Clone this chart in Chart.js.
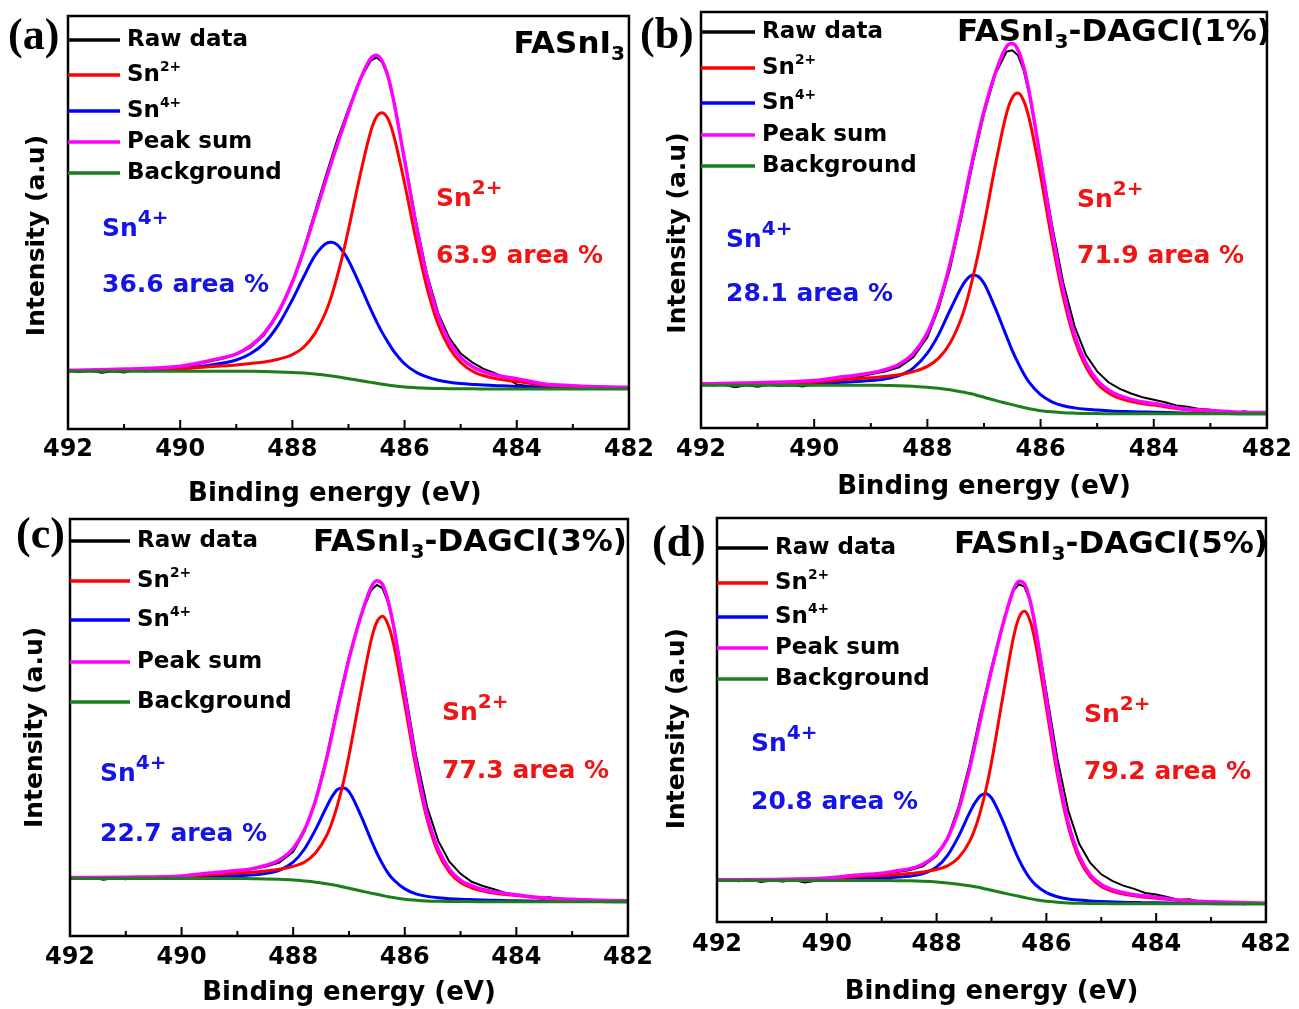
<!DOCTYPE html>
<html>
<head>
<meta charset="utf-8">
<title>Sn 3d5/2 XPS fits</title>
<script src="https://cdn.jsdelivr.net/npm/chart.js@4.4.1/dist/chart.umd.min.js"></script>
<style>
  html, body { margin: 0; padding: 0; background: #fff; }
  body { position: relative; width: 1299px; height: 1009px; overflow: hidden; }
  canvas { position: absolute; }
</style>
</head>
<body>
<canvas id="pa"></canvas>
<canvas id="pb"></canvas>
<canvas id="pc"></canvas>
<canvas id="pd"></canvas>
<script>
// binding energy (eV) of the fitted curves, and of the raw spectrum
const energy = [492, 491, 490, 489.5, 489, 488.75, 488.5, 488.25, 488, 487.8, 487.6, 487.4, 487.3, 487.2, 487.1, 487.0,
  486.8, 486.6, 486.5, 486.4, 486.3, 486.2, 486.0, 485.8, 485.6, 485.4, 485.2, 485.0, 484.75, 484.5, 484.25, 484.0,
  483.5, 483.0, 482.5, 482.0];
const rawEnergy = [492, 491.8, 491.6, 491.4, 491.2, 491, 490.8, 490.6, 490.4, 490.2, 490, 489.75, 489.5, 489.25, 489,
  488.75, 488.5, 488.25, 488, 487.8, 487.6, 487.4, 487.2, 487.0, 486.8, 486.6, 486.5, 486.4, 486.3, 486.2, 486.0,
  485.8, 485.6, 485.4, 485.2, 485.0, 484.8, 484.6, 484.4, 484.2, 484.0, 483.8, 483.6, 483.4, 483.2, 483.0, 482.8,
  482.6, 482.4, 482.2, 482.0];
const xTicks = [492, 490, 488, 486, 484, 482];
const xMinorTicks = [491, 489, 487, 485, 483];

// (a) FASnI3  (intensity in arbitrary units, 0..100 of the frame)
const aRaw = [14.2, 13.8, 14.1, 13.6, 14.0, 13.7, 14.3, 13.9, 14.4, 14.1, 14.3, 15.5, 16.3, 17.0, 18.0, 19.7, 22.8, 28.0, 35.5,
  43.5, 52.5, 61.5, 70.0, 77.5, 84.5, 89.2, 90.0, 88.8, 85.5, 80.0, 65.5, 50.5, 37.5, 28.0, 22.0, 18.3,
  16.2, 14.6, 13.6, 12.4, 10.8, 10.4, 10.2, 10.1, 10.0, 10.0, 9.9, 9.9, 9.9, 9.9, 9.9];
const aSn2 = [14.1, 14.2, 14.5, 15.1, 15.5, 15.85, 16.2, 16.9, 18.0, 19.8, 23.1, 28.5, 32.3, 37.0, 42.3, 48.3, 61.0, 72.2,
  75.6, 76.6, 75.2, 71.4, 59.5, 46.1, 34.2, 25.3, 19.6, 16.1, 13.7, 12.6, 11.9, 11.5, 10.6, 10.3, 10.1, 10.0];
const aSn4 = [14.1, 14.3, 14.7, 15.4, 16.7, 18.2, 20.8, 25.2, 31.3, 36.8, 41.9, 44.9, 45.2, 44.6, 43.0, 40.8, 35.0, 28.9,
  26.0, 23.4, 21.1, 19.0, 15.8, 13.8, 12.6, 11.8, 11.3, 11.0, 10.8, 10.6, 10.45, 10.3, 10.1, 10.0, 9.9, 9.9];
const aSum = [14.2, 14.5, 15.2, 16.5, 18.2, 20.1, 23.2, 28.3, 35.6, 43.1, 51.7, 60.4, 64.7, 68.9, 72.9, 76.9, 84.3, 89.8,
  90.5, 89.1, 85.6, 79.9, 65.1, 49.9, 36.9, 27.3, 21.1, 17.3, 14.8, 13.5, 12.7, 12.2, 10.9, 10.5, 10.2, 10.1];
const aBg = [14.0, 14.0, 14.0, 14.0, 14.0, 13.96, 13.91, 13.83, 13.70, 13.53, 13.31, 13.01, 12.84, 12.67, 12.41, 12.19,
  11.72, 11.29, 11.08, 10.86, 10.65, 10.47, 10.17, 10.0, 9.87, 9.81, 9.76, 9.74, 9.72, 9.7, 9.7, 9.7, 9.7, 9.7, 9.7, 9.7];

// (b) FASnI3-DAGCl(1%)
const bRaw = [10.8, 10.2, 10.4, 9.8, 10.3, 9.9, 10.4, 10.1, 10.3, 10.0, 10.5, 11.1, 11.6, 12.2, 12.9, 13.6, 14.6, 17.0, 21.8,
  28.8, 38.3, 50.5, 63.5, 75.5, 85.0, 90.5, 90.8, 89.6, 86.0, 80.2, 65.0, 49.0, 35.0, 24.5, 17.6, 13.6,
  11.0, 9.4, 8.3, 7.4, 6.8, 6.2, 5.4, 5.1, 4.6, 4.4, 3.9, 3.6, 4.0, 3.5, 3.7];
const bSn2 = [10.5, 10.6, 11.0, 11.6, 12.1, 12.4, 12.8, 13.55, 14.8, 16.8, 20.4, 26.4, 30.7, 36.0, 42.0, 48.7, 63.1, 75.7,
  79.4, 80.5, 78.7, 74.3, 60.7, 45.2, 31.5, 21.3, 14.7, 10.7, 8.0, 6.7, 5.96, 5.5, 4.5, 4.0, 3.7, 3.6];
const bSn4 = [10.4, 10.5, 10.7, 11.0, 11.4, 11.8, 12.6, 14.4, 18.0, 22.5, 28.3, 33.8, 35.8, 36.8, 36.4, 34.8, 28.8, 22.0,
  18.6, 15.7, 13.1, 10.95, 8.0, 6.3, 5.35, 4.84, 4.52, 4.31, 4.1, 3.96, 3.86, 3.8, 3.6, 3.5, 3.45, 3.4];
const bSum = [10.6, 10.9, 11.4, 12.3, 13.2, 14.0, 15.3, 17.9, 22.9, 29.8, 39.5, 51.5, 58.1, 64.6, 70.6, 76.1, 85.3, 91.7,
  92.4, 90.9, 86.9, 80.7, 64.5, 47.6, 33.2, 22.5, 15.7, 11.5, 8.7, 7.3, 6.4, 5.9, 4.7, 4.2, 3.8, 3.7];
const bBg = [10.3, 10.3, 10.3, 10.3, 10.3, 10.23, 10.16, 10.02, 9.82, 9.54, 9.20, 8.71, 8.44, 8.16, 7.75, 7.40,
  6.64, 5.95, 5.61, 5.26, 4.92, 4.64, 4.16, 3.88, 3.68, 3.57, 3.50, 3.47, 3.43, 3.4, 3.4, 3.4, 3.4, 3.4, 3.4, 3.4];

// (c) FASnI3-DAGCl(3%)
const cRaw = [14.1, 13.7, 14.0, 13.5, 13.9, 13.6, 14.0, 13.8, 14.1, 13.7, 13.9, 14.6, 15.0, 15.3, 15.6, 16.0, 16.6, 17.6, 20.2,
  25.0, 32.5, 43.0, 55.5, 67.0, 76.5, 83.0, 84.2, 83.4, 80.0, 74.5, 59.5, 43.5, 31.0, 22.8, 17.8, 14.9,
  13.0, 12.0, 11.2, 10.3, 9.9, 9.6, 9.2, 9.3, 8.6, 8.8, 8.3, 8.6, 8.1, 8.5, 8.2];
const cSn2 = [13.95, 14.0, 14.2, 14.7, 15.05, 15.3, 15.6, 16.0, 16.7, 17.7, 19.9, 24.1, 27.4, 31.7, 36.9, 43.3, 57.6, 71.1,
  75.3, 76.7, 74.7, 70.0, 55.6, 40.4, 28.0, 19.9, 15.3, 12.8, 11.3, 10.5, 10.0, 9.7, 9.0, 8.7, 8.5, 8.4];
const cSn4 = [13.85, 13.9, 14.0, 14.2, 14.5, 14.6, 15.0, 15.75, 17.7, 20.8, 25.5, 31.0, 33.5, 35.2, 35.5, 34.6, 29.3, 22.9,
  19.9, 17.3, 15.1, 13.5, 11.3, 10.1, 9.5, 9.2, 8.96, 8.8, 8.7, 8.6, 8.5, 8.46, 8.35, 8.3, 8.25, 8.2];
const cSum = [14.0, 14.1, 14.4, 15.1, 15.7, 16.1, 16.9, 18.2, 21.0, 25.4, 32.5, 42.6, 48.6, 54.8, 60.7, 66.4, 76.1, 83.7,
  85.2, 84.3, 80.4, 74.3, 58.1, 41.9, 29.1, 20.8, 16.0, 13.4, 11.8, 10.85, 10.3, 9.9, 9.1, 8.8, 8.55, 8.45];
const cBg = [13.8, 13.8, 13.8, 13.8, 13.8, 13.74, 13.69, 13.58, 13.41, 13.18, 12.90, 12.51, 12.29, 12.06, 11.73, 11.45,
  10.83, 10.27, 9.99, 9.71, 9.43, 9.21, 8.82, 8.59, 8.42, 8.34, 8.28, 8.26, 8.23, 8.2, 8.2, 8.2, 8.2, 8.2, 8.2, 8.2];

// (d) FASnI3-DAGCl(5%)
const dRaw = [10.6, 10.4, 10.1, 10.5, 9.9, 10.3, 10.0, 10.4, 9.8, 10.2, 10.5, 10.9, 11.4, 11.5, 11.9, 12.3, 12.8, 13.8, 16.3,
  20.8, 28.5, 39.0, 51.5, 63.0, 73.5, 82.0, 83.6, 83.0, 79.6, 73.5, 57.0, 40.5, 27.5, 19.3, 14.6, 11.8,
  10.2, 9.0, 8.2, 7.2, 6.8, 6.2, 5.5, 5.6, 5.0, 5.1, 4.6, 4.9, 4.4, 4.7, 4.5];
const dSn2 = [10.4, 10.5, 10.7, 11.2, 11.5, 11.7, 12.0, 12.4, 13.0, 13.9, 15.9, 19.9, 23.1, 27.4, 32.85, 39.5, 55.2, 70.4,
  75.3, 76.9, 74.7, 69.2, 53.1, 36.5, 23.6, 15.55, 11.1, 8.8, 7.4, 6.7, 6.2, 5.9, 5.2, 4.9, 4.7, 4.6];
const dSn4 = [10.35, 10.4, 10.5, 10.7, 10.9, 11.1, 11.3, 11.96, 13.6, 16.5, 21.2, 27.0, 29.5, 31.3, 31.75, 30.7, 25.2, 18.5,
  15.45, 12.9, 10.8, 9.27, 7.26, 6.26, 5.70, 5.42, 5.2, 5.07, 4.94, 4.84, 4.79, 4.75, 4.6, 4.55, 4.5, 4.5];
const dSum = [10.45, 10.55, 10.9, 11.55, 12.1, 12.6, 13.15, 14.3, 16.8, 20.7, 27.7, 37.9, 43.9, 50.2, 56.45, 62.3, 73.2, 82.2,
  84.35, 83.7, 79.7, 73.0, 55.3, 37.9, 24.6, 16.3, 11.7, 9.3, 7.8, 7.0, 6.5, 6.15, 5.3, 5.0, 4.8, 4.65];
const dBg = [10.3, 10.3, 10.3, 10.3, 10.3, 10.24, 10.18, 10.07, 9.89, 9.66, 9.37, 8.97, 8.73, 8.50, 8.15, 7.86,
  7.23, 6.65, 6.36, 6.07, 5.78, 5.54, 5.14, 4.91, 4.73, 4.65, 4.59, 4.56, 4.53, 4.5, 4.5, 4.5, 4.5, 4.5, 4.5, 4.5];

const FONT = "'DejaVu Sans', 'Liberation Sans', sans-serif";
const RED = '#ff0000', BLUE = '#0000ff', MAGENTA = '#ff00ff', GREEN = '#1a7f1a';
const NBSP = '\u00a0';

const legendItems = [
  { text: 'Raw data', color: '#000' },
  { text: 'Sn^{2+}', color: RED },
  { text: 'Sn^{4+}', color: BLUE },
  { text: 'Peak sum', color: MAGENTA },
  { text: 'Background', color: GREEN }
];

// page layout of each panel (absolute pixels)
const panels = [
  { id: 'pa', tag: '(a)', title: 'FASnI_{3}', canvas: [0, 0, 660, 510], area: [68, 16, 631, 429],
    xTitleOff: 66, tickOff: 21, yTitleX: 37, xTitleNudge: 3, yTitleNudge: 3,
    legendY: [40, 75, 111, 142, 173], legendLen: 52,
    tagPos: [8, 38], titleY: 45, titleRight: 625,
    sn4: [102, 229], sn4Pct: [102, 285, '36.6 area %'], sn2: [436, 199], sn2Pct: [436, 256, '63.9 area %'],
    series: [aRaw, aSn2, aSn4, aSum, aBg] },
  { id: 'pb', tag: '(b)', title: 'FASnI_{3}-DAGCl(1%)', canvas: [630, 0, 669, 510], area: [701, 12, 1272, 428],
    xTitleOff: 60, tickOff: 22, yTitleX: 678, xTitleNudge: 0, yTitleNudge: 3,
    legendY: [32, 68, 103, 135, 166], legendLen: 54,
    tagPos: [640, 37], titleY: 33, titleRight: 1271,
    sn4: [726, 240], sn4Pct: [726, 294, '28.1 area %'], sn2: [1077, 200], sn2Pct: [1077, 256, '71.9 area %'],
    series: [bRaw, bSn2, bSn4, bSum, bBg] },
  { id: 'pc', tag: '(c)', title: 'FASnI_{3}-DAGCl(3%)', canvas: [0, 504, 660, 505], area: [70, 519, 631, 936],
    xTitleOff: 58, tickOff: 22, yTitleX: 35, xTitleNudge: 0, yTitleNudge: 0,
    legendY: [541, 581, 620, 662, 702], legendLen: 60,
    tagPos: [16, 537], titleY: 543, titleRight: 627,
    sn4: [100, 774], sn4Pct: [100, 834, '22.7 area %'], sn2: [442, 713], sn2Pct: [442, 771, '77.3 area %'],
    series: [cRaw, cSn2, cSn4, cSum, cBg] },
  { id: 'pd', tag: '(d)', title: 'FASnI_{3}-DAGCl(5%)', canvas: [630, 504, 669, 505], area: [717, 518, 1272, 922],
    xTitleOff: 71, tickOff: 23, yTitleX: 677, xTitleNudge: 0, yTitleNudge: 2,
    legendY: [548, 583, 617, 648, 679], legendLen: 51,
    tagPos: [652, 545], titleY: 545, titleRight: 1268,
    sn4: [751, 744], sn4Pct: [751, 802, '20.8 area %'], sn2: [1084, 715], sn2Pct: [1084, 772, '79.2 area %'],
    series: [dRaw, dSn2, dSn4, dSum, dBg] }
];

// text with ^{sup} and _{sub} parts
function drawRich(ctx, str, x, y, size, color, align, small, rise) {
  const parts = [];
  const re = /([\^_])\{([^}]*)\}/g;
  let last = 0, m;
  while ((m = re.exec(str))) {
    if (m.index > last) parts.push({ t: str.slice(last, m.index), s: size, dy: 0 });
    parts.push({ t: m[2], s: size * small, dy: m[1] === '^' ? -size * rise : size * 0.3 });
    last = re.lastIndex;
  }
  if (last < str.length) parts.push({ t: str.slice(last), s: size, dy: 0 });
  ctx.fillStyle = color;
  ctx.textBaseline = 'middle';
  ctx.textAlign = 'left';
  let w = 0;
  parts.forEach(p => { ctx.font = 'bold ' + p.s + 'px ' + FONT; p.w = ctx.measureText(p.t).width; w += p.w; });
  let cx = align === 'right' ? x - w : x;
  parts.forEach(p => {
    ctx.font = 'bold ' + p.s + 'px ' + FONT;
    ctx.fillText(p.t, cx, y + p.dy);
    cx += p.w;
  });
}

function line(ctx, x1, y1, x2, y2) {
  ctx.beginPath(); ctx.moveTo(x1, y1); ctx.lineTo(x2, y2); ctx.stroke();
}

function drawDecor(chart, p) {
  const { ctx, chartArea: a } = chart;
  const x = chart.scales.x;
  const ox = p.canvas[0], oy = p.canvas[1];
  ctx.save();
  // frame
  ctx.strokeStyle = '#000';
  ctx.lineWidth = 2.5;
  ctx.strokeRect(a.left, a.top, a.right - a.left, a.bottom - a.top);
  // inward ticks on the energy axis
  ctx.lineWidth = 2;
  xTicks.forEach(v => { const px = x.getPixelForValue(v); line(ctx, px, a.bottom, px, a.bottom - 9); });
  xMinorTicks.forEach(v => { const px = x.getPixelForValue(v); line(ctx, px, a.bottom, px, a.bottom - 5); });
  // legend
  legendItems.forEach((item, i) => {
    const y = p.legendY[i] - oy;
    ctx.strokeStyle = item.color;
    ctx.lineWidth = 3.5;
    line(ctx, a.left, y, a.left + p.legendLen, y);
    drawRich(ctx, item.text, a.left + p.legendLen + 7, y, 23, '#000', 'left', 0.6, 0.34);
  });
  // panel tag and sample name
  ctx.fillStyle = '#000';
  ctx.font = 'bold 44px "Liberation Serif", "Times New Roman", serif';
  ctx.textBaseline = 'middle';
  ctx.fillText(p.tag, p.tagPos[0] - ox, p.tagPos[1] - oy);
  drawRich(ctx, p.title, p.titleRight - ox, p.titleY - oy, 31, '#000', 'right', 0.65, 0.4);
  // component shares
  drawRich(ctx, 'Sn^{4+}', p.sn4[0] - ox, p.sn4[1] - oy, 25, '#1414e6', 'left', 0.8, 0.42);
  drawRich(ctx, p.sn4Pct[2], p.sn4Pct[0] - ox, p.sn4Pct[1] - oy, 25, '#1414e6', 'left', 1, 0);
  drawRich(ctx, 'Sn^{2+}', p.sn2[0] - ox, p.sn2[1] - oy, 25, '#f01414', 'left', 0.8, 0.42);
  drawRich(ctx, p.sn2Pct[2], p.sn2Pct[0] - ox, p.sn2Pct[1] - oy, 25, '#f01414', 'left', 1, 0);
  ctx.restore();
}

function makePanel(p) {
  const [cx, cy, W, H] = p.canvas;
  const el = document.getElementById(p.id);
  el.width = W;
  el.height = H;
  el.style.left = cx + 'px';
  el.style.top = cy + 'px';
  const L = p.area[0] - cx, T = p.area[1] - cy, R = p.area[2] - cx, B = p.area[3] - cy;
  const xh = p.xTitleOff + 15;
  const [raw, sn2, sn4, sum, bg] = p.series;

  const ds = (label, xs, ys, color, width, order, smooth) => ({
    label,
    data: xs.map((e, i) => ({ x: e, y: ys[i] })),
    borderColor: color,
    borderWidth: width,
    pointRadius: 0,
    fill: false,
    order,
    tension: smooth ? 0.4 : 0,
    cubicInterpolationMode: smooth ? 'monotone' : 'default'
  });

  new Chart(el, {
    type: 'line',
    data: {
      datasets: [
        ds('Raw data', rawEnergy, raw, '#000', 2, 4, false),
        ds('Sn2+', energy, sn2, RED, 3, 2, true),
        ds('Sn4+', energy, sn4, BLUE, 3, 3, true),
        ds('Peak sum', energy, sum, MAGENTA, 3.5, 1, true),
        ds('Background', energy, bg, GREEN, 3, 0, true)
      ]
    },
    options: {
      responsive: false,
      animation: false,
      events: [],
      layout: { padding: { left: 0, top: T, right: W - R, bottom: H - B - xh } },
      plugins: { legend: { display: false }, tooltip: { enabled: false } },
      scales: {
        x: {
          type: 'linear',
          reverse: true,
          min: 482,
          max: 492,
          afterBuildTicks: s => { s.ticks = xTicks.map(v => ({ value: v })); },
          afterFit: s => { s.height = xh; },
          grid: { display: false, drawTicks: false },
          border: { display: false },
          ticks: { color: '#000', padding: p.tickOff - 15, maxRotation: 0, autoSkip: false,
                   font: { family: FONT, size: 24, weight: 'bold' } },
          title: { display: true, text: 'Binding energy (eV)' + NBSP.repeat(p.xTitleNudge), color: '#000', padding: 0,
                   font: { family: FONT, size: 26, weight: 'bold' } }
        },
        y: {
          min: 0,
          max: 100,
          afterFit: s => { s.width = L; },
          grid: { display: false, drawTicks: false },
          border: { display: false },
          ticks: { display: false },
          title: { display: true, text: 'Intensity (a.u)' + NBSP.repeat(p.yTitleNudge), color: '#000',
                   padding: { top: p.yTitleX - cx - 15, bottom: 0 },
                   font: { family: FONT, size: 25, weight: 'bold' } }
        }
      }
    },
    plugins: [{ id: 'decor', afterDraw: c => drawDecor(c, p) }]
  });
}

panels.forEach(makePanel);
</script>
</body>
</html>
